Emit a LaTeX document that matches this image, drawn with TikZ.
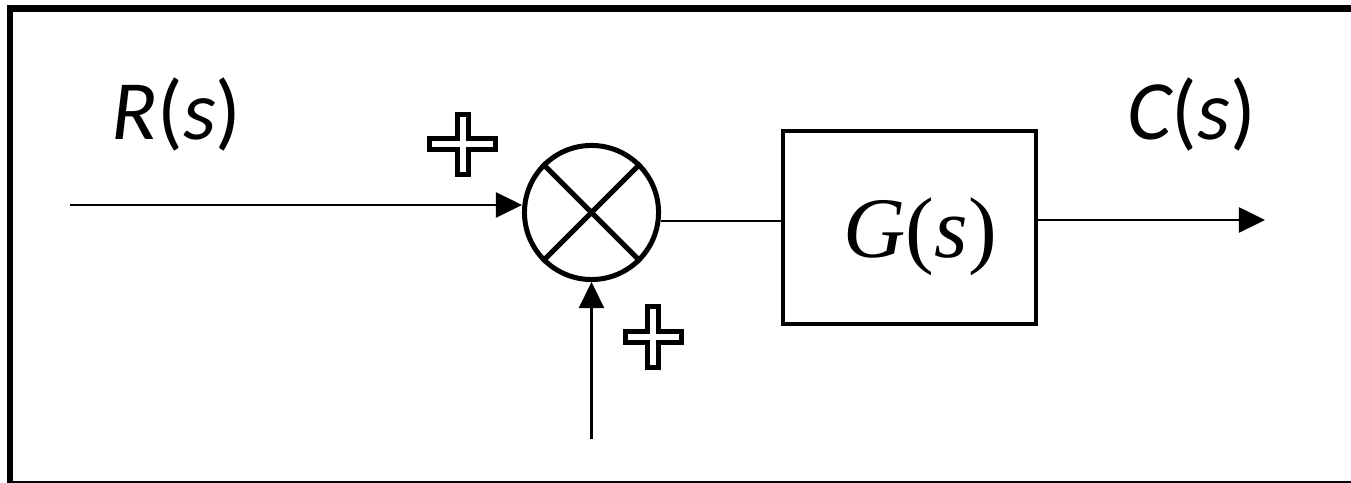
\documentclass[tikz,border=0pt]{standalone}
\usepackage{fontspec}
\setmainfont{Liberation Serif}
\newfontfamily\labelfont{Carlito}
\usetikzlibrary{arrows.meta}

\tikzset{
  sig/.style={line width=0.025cm},
  arr/.style={sig,-{Triangle[length=0.26cm,width=0.25cm]}},
  frame/.style={line width=0.065cm},
  sumnode/.style={circle,draw,line width=0.05cm,minimum size=1.34cm,inner sep=0pt},
  blocknode/.style={rectangle,draw,line width=0.04cm,minimum width=2.53cm,minimum height=1.93cm,inner sep=0pt},
  siglabel/.style={inner sep=0pt,anchor=base west,font=\labelfont\fontsize{24}{28}\selectfont},
  blocklabel/.style={inner sep=0pt,anchor=base west,font=\fontsize{24.5}{29}\selectfont},
  pics/plussign/.style n args={3}{code={
    \draw[line width=0.05cm,line join=miter]
      (-#3,#2) -- (#3,#2) -- (#3,#3) -- (#1,#3) -- (#1,-#3) -- (#3,-#3)
      -- (#3,-#2) -- (-#3,-#2) -- (-#3,-#3) -- (-#1,-#3) -- (-#1,#3)
      -- (-#3,#3) -- cycle;
  }}
}

\begin{document}
\begin{tikzpicture}[x=0.01cm,y=-0.01cm]
  \useasboundingbox (0,0) rectangle (1351,483);
  \clip (0,0) rectangle (1351,483);

  % outer frame
  \draw[frame] (10,8.5) rectangle (1380,484.5);

  % summing junction and plant block
  \node[sumnode] (sum) at (591.5,212.5) {};
  \draw[line width=0.05cm] (sum.45) -- (sum.225) (sum.135) -- (sum.-45);
  \node[blocknode] (G) at (909.5,227.5) {};
  \node[blocklabel] (Gtxt) at (843,258) {\itshape G\upshape(\itshape s\upshape)};

  % signal labels
  \node[siglabel] (Rtxt) at (111,140) {\itshape R\upshape(\itshape s\upshape)};
  \node[siglabel] (Ctxt) at (1127,140) {\itshape C\upshape(\itshape s\upshape)};

  % signal ends
  \coordinate (rin) at (70,205);
  \coordinate (dist) at (591.5,439);
  \coordinate (cout) at (1265,220);

  % connectors
  \draw[arr] (rin) -- (rin -| sum.west);
  \draw[arr] (dist) -- (sum.south);
  \draw[sig] (sum.-7) -- (sum.-7 -| G.west);
  \draw[arr] (cout -| G.east) -- (cout);

  % sign markers
  \pic at (462.5,144.5) {plussign={33}{30}{5.5}};
  \pic at (653,337) {plussign={28}{30.5}{5.5}};
\end{tikzpicture}
\end{document}
